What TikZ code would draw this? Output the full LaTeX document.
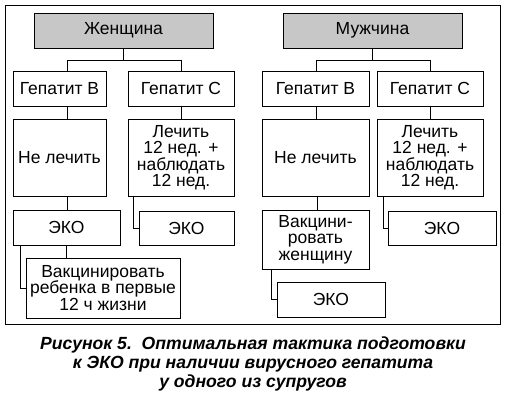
\documentclass[tikz,border=0pt]{standalone}
\usepackage{fontspec}
\setmainfont{Liberation Sans}
\begin{document}
\begin{tikzpicture}[x=1pt,y=-1pt,
  box/.style={draw, line width=0.9pt, inner sep=0pt, align=center, font=\fontsize{17.5}{16.5}\selectfont},
  head/.style={box, fill=black!22},
  conn/.style={line width=0.9pt}]
\useasboundingbox (0,0) rectangle (507,402);
\draw[line width=0.9pt] (5,5) rectangle (500,324);
% Women
\node[head, minimum width=179pt, minimum height=35pt] (w) at (123.5,30.5) {Женщина};
\node[box, minimum width=93pt, minimum height=35pt] (wB) at (59.5,88.5) {Гепатит В};
\node[box, minimum width=106pt, minimum height=35pt] (wC) at (181,88.5) {Гепатит С};
\node[box, minimum width=93pt, minimum height=77pt] (wN) at (59.5,157.5) {Не лечить};
\node[box, minimum width=106pt, minimum height=77pt] (wL) at (181,157.5) {Лечить\\12 нед. +\\наблюдать\\12 нед.};
\node[box, minimum width=107pt, minimum height=35pt] (wE1) at (66.5,227.5) {ЭКО};
\node[box, minimum width=95pt, minimum height=34pt] (wE2) at (186.5,228) {ЭКО};
\node[box, minimum width=154pt, minimum height=60pt] (wV) at (103,288) {Вакцинировать\\ребенка в первые\\12 ч жизни};
% Men
\node[head, minimum width=179pt, minimum height=35pt] (m) at (372.5,30.5) {Мужчина};
\node[box, minimum width=107pt, minimum height=35pt] (mB) at (315.5,88.5) {Гепатит В};
\node[box, minimum width=106pt, minimum height=35pt] (mC) at (430,88.5) {Гепатит С};
\node[box, minimum width=107pt, minimum height=77pt] (mN) at (315.5,157.5) {Не лечить};
\node[box, minimum width=106pt, minimum height=77pt] (mL) at (430,157.5) {Лечить\\12 нед. +\\наблюдать\\12 нед.};
\node[box, minimum width=107pt, minimum height=59pt] (mV) at (315.5,239.5) {Вакцини-\\ровать\\женщину};
\node[box, minimum width=108pt, minimum height=34pt] (mE2) at (442,228) {ЭКО};
\node[box, minimum width=108pt, minimum height=35pt] (mE1) at (331,299.5) {ЭКО};
% coordinates for connector x positions
\coordinate (x67) at (67,0);
\coordinate (x66) at (66,0);
\coordinate (x20) at (20,0);
\coordinate (x133) at (133,0);
\coordinate (x316) at (316,0);
\coordinate (x317) at (317,0);
\coordinate (x383) at (383,0);
\coordinate (x271) at (271,0);
\coordinate (y60) at (0,60);
% Women connectors
\draw[conn] (w.south) -- (w.south |- y60);
\draw[conn] (wB.north -| x67) -- (x67 |- y60) -- (wC.north |- y60) -- (wC.north);
\draw[conn] (wB.south -| x67) -- (wN.north -| x67);
\draw[conn] (wC.south) -- (wL.north);
\draw[conn] (wN.south -| x67) -- (wE1.north -| x67);
\draw[conn] (wL.south -| x133) |- (wE2.west);
\draw[conn] (wE1.south -| x66) -- (wV.north -| x66);
\draw[conn] (wE1.south -| x20) |- (wV.west);
% Men connectors
\draw[conn] (m.south) -- (m.south |- y60);
\draw[conn] (mB.north -| x316) -- (x316 |- y60) -- (mC.north |- y60) -- (mC.north);
\draw[conn] (mB.south -| x316) -- (mN.north -| x316);
\draw[conn] (mC.south) -- (mL.north);
\draw[conn] (mN.south -| x317) -- (mV.north -| x317);
\draw[conn] (mL.south -| x383) |- (mE2.west);
\draw[conn] (mV.south -| x271) |- (mE1.west);
% caption
\node[align=center, font=\fontsize{17.6}{19}\selectfont\bfseries\itshape] (cap) at (253,364)
 {Рисунок 5.\ \ Оптимальная тактика подготовки\\к ЭКО при наличии вирусного гепатита\\у одного из супругов};
\end{tikzpicture}
\end{document}
